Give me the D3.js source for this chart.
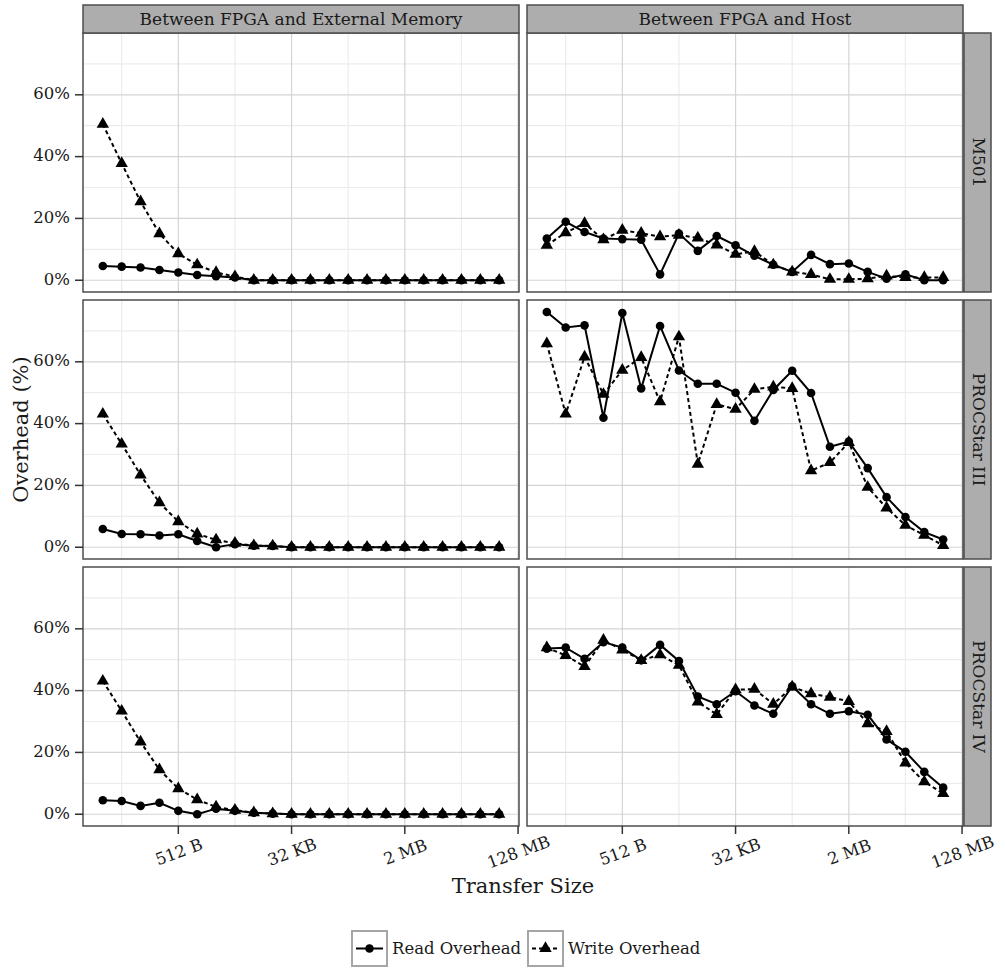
<!DOCTYPE html>
<html>
<head>
  <meta charset="utf-8" />
  <script src="https://cdn.jsdelivr.net/npm/d3@7"></script>
  <style>
    body { margin: 0; background: #fff; }
    text { font-family: "DejaVu Serif", serif; fill: #1a1a1a; }
  </style>
</head>
<body>
  <svg id="chart" width="1005" height="968"></svg>
  <script>
  // transfer sizes in bytes: 32 B .. 64 MB
  var sizes = [32, 64, 128, 256, 512, 1024, 2048, 4096, 8192, 16384, 32768, 65536,
               131072, 262144, 524288, 1048576, 2097152, 4194304, 8388608,
               16777216, 33554432, 67108864];

  var cols = ["Between FPGA and External Memory", "Between FPGA and Host"];
  var rows = ["M501", "PROCStar III", "PROCStar IV"];

  // overhead (%)
  var memM501Read   = [4.6, 4.4, 4.1, 3.3, 2.5, 1.7, 1.3, 0.9, 0, 0, 0, 0, 0, 0, 0, 0, 0, 0, 0, 0, 0, 0];
  var memM501Write  = [50.5, 37.8, 25.4, 15.1, 8.6, 5.0, 2.5, 1.2, 0, 0, 0, 0, 0, 0, 0, 0, 0, 0, 0, 0, 0, 0];
  var memIIIRead    = [5.9, 4.3, 4.2, 3.8, 4.2, 2.0, 0, 1.0, 0.5, 0.4, 0, 0, 0, 0, 0, 0, 0, 0, 0, 0, 0, 0];
  var memIIIWrite   = [43.1, 33.4, 23.4, 14.4, 8.3, 4.3, 2.4, 1.3, 0.5, 0.4, 0, 0, 0, 0, 0, 0, 0, 0, 0, 0, 0, 0];
  var memIVRead     = [4.5, 4.3, 2.7, 3.7, 1.1, 0, 1.8, 1.1, 0.5, 0.2, 0, 0, 0, 0, 0, 0, 0, 0, 0, 0, 0, 0];
  var memIVWrite    = [43.1, 33.4, 23.4, 14.4, 8.3, 4.7, 2.4, 1.3, 0.5, 0.2, 0, 0, 0, 0, 0, 0, 0, 0, 0, 0, 0, 0];
  var hostM501Read  = [13.5, 18.9, 15.6, 13.5, 13.3, 13.1, 1.9, 15.1, 9.5, 14.3, 11.3, 7.9, 5.0, 2.7, 8.2, 5.2, 5.4, 2.7, 0.5, 1.9, 0, 0];
  var hostM501Write = [11.3, 15.4, 18.4, 13.1, 16.2, 15.2, 14.1, 14.6, 13.7, 11.4, 8.4, 9.3, 5.0, 2.7, 1.9, 0.3, 0.3, 0.5, 1.4, 0.9, 0.9, 0.9];
  var hostIIIRead   = [76.1, 71.1, 71.8, 41.9, 75.8, 51.4, 71.6, 57.2, 52.9, 52.9, 50.0, 40.9, 50.9, 57.1, 49.9, 32.5, 34.2, 25.6, 16.2, 9.8, 4.9, 2.5];
  var hostIIIWrite  = [65.9, 43.1, 61.6, 49.5, 57.3, 61.4, 47.1, 68.1, 26.9, 46.2, 44.7, 51.1, 51.9, 51.4, 24.8, 27.4, 33.9, 19.4, 12.7, 7.1, 3.9, 0.6];
  var hostIVRead    = [53.6, 53.9, 50.3, 55.7, 53.9, 49.8, 54.8, 49.6, 38.1, 35.6, 39.8, 35.2, 32.5, 41.4, 35.6, 32.5, 33.3, 32.2, 24.2, 20.2, 13.7, 8.6];
  var hostIVWrite   = [53.9, 51.4, 47.8, 56.3, 53.2, 49.8, 51.6, 48.2, 36.3, 32.3, 40.3, 40.5, 35.6, 41.2, 39.0, 37.9, 36.5, 29.3, 26.8, 16.6, 10.5, 6.7];

  var xTickValues = [512, 32768, 2097152, 134217728];
  var xTickLabels = ["512 B", "32 KB", "2 MB", "128 MB"];
  var xMinorValues = [64, 4096, 262144, 16777216];
  var yTickValues = [0, 20, 40, 60];
  var yMinorValues = [10, 30, 50, 70];

  var panelData = [
    [[memM501Read, memM501Write], [hostM501Read, hostM501Write]],
    [[memIIIRead, memIIIWrite],   [hostIIIRead, hostIIIWrite]],
    [[memIVRead, memIVWrite],     [hostIVRead, hostIVWrite]]
  ];

  var svg = d3.select("#chart");

  var padLeft = 83, padTop = 33, pw = 436, ph = 259, gap = 8, stripH = 28, stripW = 27;

  var x = d3.scaleLog().base(2)
            .domain([Math.pow(2, 3.95), Math.pow(2, 27.05)])
            .range([0, pw]);
  var y = d3.scaleLinear().domain([-3.81, 80.0]).range([ph, 0]);

  var line = d3.line().x(function(d, i) { return x(sizes[i]); }).y(function(d) { return y(d); });
  var tri = d3.symbol().type(d3.symbolTriangle).size(66);

  rows.forEach(function(rowName, r) {
    cols.forEach(function(colName, c) {
      var px = padLeft + c * (pw + gap), py = padTop + r * (ph + gap);
      var g = svg.append("g").attr("transform", "translate(" + px + "," + py + ")");

      g.append("rect").attr("width", pw).attr("height", ph).attr("fill", "#fff");

      // grid
      g.selectAll(".gxm").data(xMinorValues).enter().append("line")
        .attr("x1", function(d) { return x(d); }).attr("x2", function(d) { return x(d); })
        .attr("y1", 0).attr("y2", ph).attr("stroke", "#ececec").attr("stroke-width", 1.2);
      g.selectAll(".gym").data(yMinorValues).enter().append("line")
        .attr("y1", function(d) { return y(d); }).attr("y2", function(d) { return y(d); })
        .attr("x1", 0).attr("x2", pw).attr("stroke", "#ececec").attr("stroke-width", 1.2);
      g.selectAll(".gx").data(xTickValues).enter().append("line")
        .attr("x1", function(d) { return x(d); }).attr("x2", function(d) { return x(d); })
        .attr("y1", 0).attr("y2", ph).attr("stroke", "#d4d4d4").attr("stroke-width", 1.2);
      g.selectAll(".gy").data(yTickValues).enter().append("line")
        .attr("y1", function(d) { return y(d); }).attr("y2", function(d) { return y(d); })
        .attr("x1", 0).attr("x2", pw).attr("stroke", "#d4d4d4").attr("stroke-width", 1.2);

      var readVals = panelData[r][c][0], writeVals = panelData[r][c][1];

      g.append("path").datum(writeVals).attr("d", line)
        .attr("fill", "none").attr("stroke", "#000").attr("stroke-width", 2)
        .attr("stroke-dasharray", "4,3");
      g.append("path").datum(readVals).attr("d", line)
        .attr("fill", "none").attr("stroke", "#000").attr("stroke-width", 2);

      g.selectAll(".pt").data(readVals).enter().append("circle")
        .attr("cx", function(d, i) { return x(sizes[i]); })
        .attr("cy", function(d) { return y(d); })
        .attr("r", 4.3).attr("fill", "#000");
      g.selectAll(".tr").data(writeVals).enter().append("path")
        .attr("d", tri)
        .attr("transform", function(d, i) { return "translate(" + x(sizes[i]) + "," + y(d) + ")"; })
        .attr("fill", "#000");

      g.append("rect").attr("width", pw).attr("height", ph)
        .attr("fill", "none").attr("stroke", "#4d4d4d").attr("stroke-width", 1.5);

      // top strips
      if (r === 0) {
        var s = svg.append("g").attr("transform", "translate(" + px + "," + (padTop - stripH) + ")");
        s.append("rect").attr("width", pw).attr("height", stripH)
          .attr("fill", "#adadad").attr("stroke", "#4d4d4d").attr("stroke-width", 1.5);
        s.append("text").attr("x", pw / 2).attr("y", stripH / 2 + 1)
          .attr("text-anchor", "middle").attr("dominant-baseline", "middle")
          .style("font-size", "17px").text(colName);
      }
      // right strips
      if (c === cols.length - 1) {
        var sr = svg.append("g").attr("transform", "translate(" + (px + pw + 1) + "," + py + ")");
        sr.append("rect").attr("width", stripW).attr("height", ph)
          .attr("fill", "#adadad").attr("stroke", "#4d4d4d").attr("stroke-width", 1.5);
        sr.append("text")
          .attr("transform", "translate(" + (stripW / 2) + "," + (ph / 2) + ") rotate(90)")
          .attr("text-anchor", "middle").attr("dominant-baseline", "middle")
          .style("font-size", "17px").text(rowName);
      }
      // y axis
      if (c === 0) {
        var ya = g.append("g");
        ya.selectAll("line").data(yTickValues).enter().append("line")
          .attr("x1", -8).attr("x2", 0)
          .attr("y1", function(d) { return y(d); }).attr("y2", function(d) { return y(d); })
          .attr("stroke", "#333").attr("stroke-width", 1.5);
        ya.selectAll("text").data(yTickValues).enter().append("text")
          .attr("x", -13).attr("y", function(d) { return y(d); })
          .attr("text-anchor", "end").attr("dominant-baseline", "middle")
          .style("font-size", "16.5px").text(function(d) { return d + "%"; });
      }
      // x axis
      if (r === rows.length - 1) {
        var xa = g.append("g").attr("transform", "translate(0," + ph + ")");
        xa.selectAll("line").data(xTickValues).enter().append("line")
          .attr("x1", function(d) { return x(d); }).attr("x2", function(d) { return x(d); })
          .attr("y1", 0).attr("y2", 8)
          .attr("stroke", "#333").attr("stroke-width", 1.5);
        xa.selectAll("text").data(xTickValues).enter().append("text")
          .attr("transform", function(d) { return "translate(" + (x(d) + 1) + ",27) rotate(-20)"; })
          .attr("text-anchor", "middle").attr("dominant-baseline", "middle")
          .style("font-size", "16.5px").text(function(d, i) { return xTickLabels[i]; });
      }
    });
  });

  // axis titles
  var midX = padLeft + pw + gap / 2;
  svg.append("text").attr("x", midX).attr("y", 887)
    .attr("text-anchor", "middle").attr("dominant-baseline", "middle")
    .style("font-size", "21px").text("Transfer Size");
  svg.append("text")
    .attr("transform", "translate(22," + (padTop + (3 * ph + 2 * gap) / 2) + ") rotate(-90)")
    .attr("text-anchor", "middle").attr("dominant-baseline", "middle")
    .style("font-size", "21px").text("Overhead (%)");

  // legend
  var legend = svg.append("g").attr("transform", "translate(351,930)");
  var keys = [
    { label: "Read Overhead", dash: null, shape: "circle", x: 0 },
    { label: "Write Overhead", dash: "4,3", shape: "triangle", x: 176 }
  ];
  keys.forEach(function(k) {
    var kg = legend.append("g").attr("transform", "translate(" + k.x + ",0)");
    kg.append("rect").attr("x", 1).attr("y", 1).attr("width", 35).attr("height", 35)
      .attr("fill", "#fff").attr("stroke", "#a6a6a6").attr("stroke-width", 2);
    kg.append("line").attr("x1", 5).attr("x2", 32).attr("y1", 18.5).attr("y2", 18.5)
      .attr("stroke", "#000").attr("stroke-width", 2)
      .attr("stroke-dasharray", k.dash);
    if (k.shape === "circle") {
      kg.append("circle").attr("cx", 18.5).attr("cy", 18.5).attr("r", 4.3).attr("fill", "#000");
    } else {
      kg.append("path").attr("d", tri).attr("transform", "translate(18.5,18.5)").attr("fill", "#000");
    }
    kg.append("text").attr("x", 41).attr("y", 19)
      .attr("dominant-baseline", "middle").style("font-size", "16.5px").text(k.label);
  });
  </script>
</body>
</html>
